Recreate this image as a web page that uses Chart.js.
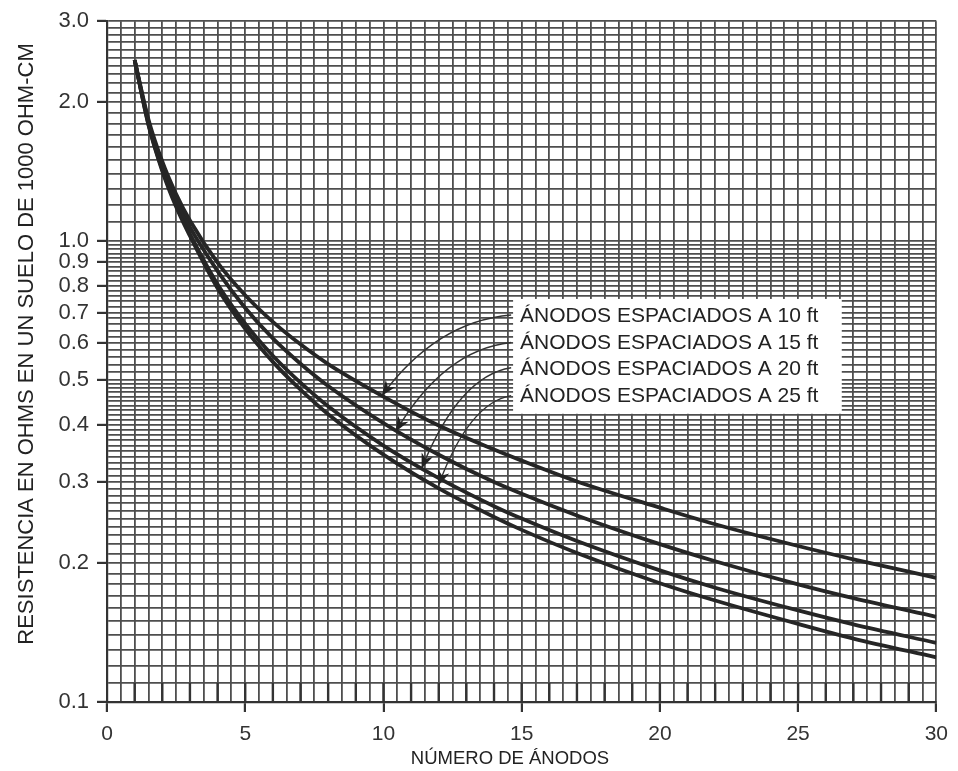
<!DOCTYPE html>
<html>
<head>
<meta charset="utf-8">
<script src="https://cdn.jsdelivr.net/npm/chart.js@4.4.1/dist/chart.umd.min.js"></script>
<style>
  html, body { margin: 0; padding: 0; background: #ffffff; }
  #wrap { width: 958px; height: 771px; position: relative; }
</style>
</head>
<body>
<div id="wrap"><canvas id="c" width="958" height="771"></canvas></div>
<script>
// ---- data ----
const anodeCounts = [1, 1.5, 2, 2.5, 3, 4, 5, 6, 7, 8, 10, 12, 14, 15, 17, 20, 22, 25, 27, 30];
const spacing10ft = [2.47, 1.837, 1.489, 1.265, 1.108, 0.898, 0.763, 0.668, 0.597, 0.541, 0.460, 0.398, 0.353, 0.334, 0.301, 0.264, 0.243, 0.218, 0.204, 0.186];
const spacing15ft = [2.47, 1.815, 1.458, 1.231, 1.072, 0.861, 0.716, 0.615, 0.542, 0.485, 0.403, 0.344, 0.300, 0.283, 0.254, 0.220, 0.202, 0.180, 0.168, 0.153];
const spacing20ft = [2.47, 1.793, 1.429, 1.198, 1.037, 0.806, 0.662, 0.564, 0.493, 0.438, 0.360, 0.306, 0.266, 0.250, 0.2235, 0.193, 0.177, 0.158, 0.1474, 0.1344];
const spacing25ft = [2.47, 1.785, 1.419, 1.187, 1.026, 0.790, 0.645, 0.547, 0.476, 0.421, 0.344, 0.2906, 0.252, 0.2363, 0.2105, 0.181, 0.166, 0.1477, 0.1373, 0.125];
const seriesLabels = ['ÁNODOS ESPACIADOS A 10 ft', 'ÁNODOS ESPACIADOS A 15 ft', 'ÁNODOS ESPACIADOS A 20 ft', 'ÁNODOS ESPACIADOS A 25 ft'];
const xTickLabels = [0, 5, 10, 15, 20, 25, 30];
const yTickLabels = [0.1, 0.2, 0.3, 0.4, 0.5, 0.6, 0.7, 0.8, 0.9, 1.0, 2.0, 3.0];
const xTitle = 'NÚMERO DE ÁNODOS';
const yTitle = 'RESISTENCIA EN OHMS EN UN SUELO DE 1000 OHM-CM';
// annotation arrows in data units: tail at the label, tip on the curve
const arrowTails = [[14.62, 0.6915], [14.62, 0.6025], [14.62, 0.531], [14.62, 0.462]];
const arrowTips = [[9.94, 0.462], [10.44, 0.386], [11.38, 0.321], [11.99, 0.295]];
const labelBox = [14.69, 26.58, 0.749, 0.422]; // xMin, xMax, yMax, yMin
const labelRows = [0.6915, 0.6025, 0.531, 0.462];

// ---- grid (log-paper rulings) ----
const yGrid = [];
for (let k = 10; k <= 50; k++) yGrid.push(k / 100);
for (let k = 52; k <= 100; k += 2) yGrid.push(k / 100);
for (let k = 11; k <= 30; k++) yGrid.push(k / 10);

const isYMajor = v => yTickLabels.some(t => Math.abs(t - v) < 1e-9);
const isXMajor = v => xTickLabels.some(t => Math.abs(t - v) < 1e-9);

const FONT = '"Liberation Sans", Arial, Helvetica, sans-serif';
const INK = '#262626';
const GRID = '#4e4e4e';

const mk = arr => anodeCounts.map((x, i) => ({x: x, y: arr[i]}));
const series = [spacing10ft, spacing15ft, spacing20ft, spacing25ft];

const annotPlugin = {
  id: 'annot',
  beforeDatasetsDraw(chart) {
    const {ctx, scales: {x, y}} = chart;
    ctx.save();
    // strip of heavier rulings at whole numbers, bottom row
    ctx.strokeStyle = '#333';
    ctx.lineWidth = 2.4;
    for (let n = 1; n < 30; n++) {
      const px = x.getPixelForValue(n);
      ctx.beginPath();
      ctx.moveTo(px, y.getPixelForValue(0.1));
      ctx.lineTo(px, y.getPixelForValue(0.11));
      ctx.stroke();
    }
    // white label box
    const bx0 = x.getPixelForValue(labelBox[0]), bx1 = x.getPixelForValue(labelBox[1]);
    const by0 = y.getPixelForValue(labelBox[2]), by1 = y.getPixelForValue(labelBox[3]);
    ctx.fillStyle = '#ffffff';
    ctx.fillRect(bx0, by0, bx1 - bx0, by1 - by0);
    ctx.fillStyle = '#222';
    ctx.font = '21px ' + FONT;
    ctx.textBaseline = 'middle';
    ctx.textAlign = 'left';
    seriesLabels.forEach((t, i) => {
      ctx.fillText(t, bx0 + 7, y.getPixelForValue(labelRows[i]) + 1);
    });
    // arrows
    ctx.strokeStyle = '#333';
    ctx.fillStyle = '#222';
    ctx.lineWidth = 1.4;
    arrowTails.forEach((s, i) => {
      const p0x = x.getPixelForValue(s[0]), p0y = y.getPixelForValue(s[1]);
      const p2x = x.getPixelForValue(arrowTips[i][0]), p2y = y.getPixelForValue(arrowTips[i][1]);
      const cx = p2x + 0.42 * (p0x - p2x), cy = p0y + 0.08 * (p2y - p0y);
      ctx.beginPath();
      ctx.moveTo(p0x, p0y);
      ctx.quadraticCurveTo(cx, cy, p2x, p2y);
      ctx.stroke();
      const ang = Math.atan2(p2y - cy, p2x - cx);
      const L = 15, W = 6;
      ctx.beginPath();
      ctx.moveTo(p2x, p2y);
      ctx.lineTo(p2x - L * Math.cos(ang) + W * Math.sin(ang), p2y - L * Math.sin(ang) - W * Math.cos(ang));
      ctx.lineTo(p2x - 0.7 * L * Math.cos(ang), p2y - 0.7 * L * Math.sin(ang));
      ctx.lineTo(p2x - L * Math.cos(ang) - W * Math.sin(ang), p2y - L * Math.sin(ang) + W * Math.cos(ang));
      ctx.closePath();
      ctx.fill();
    });
    ctx.restore();
  },
  afterDraw(chart) {
    const {ctx} = chart;
    ctx.save();
    ctx.fillStyle = '#222';
    ctx.textAlign = 'center';
    ctx.textBaseline = 'middle';
    ctx.font = '18.5px ' + FONT;
    ctx.fillText(xTitle, 510, 759);
    ctx.translate(26, 344);
    ctx.rotate(-Math.PI / 2);
    ctx.font = '22px ' + FONT;
    ctx.fillText(yTitle, 0, 1);
    ctx.restore();
  }
};

new Chart(document.getElementById('c'), {
  type: 'scatter',
  data: {
    datasets: series.map((arr, i) => ({
      label: seriesLabels[i],
      data: mk(arr),
      showLine: true,
      borderColor: INK,
      borderWidth: 3.8,
      pointRadius: 0,
      cubicInterpolationMode: 'monotone',
      fill: false
    }))
  },
  options: {
    responsive: false,
    animation: false,
    devicePixelRatio: 1,
    layout: { padding: { left: 0, right: 18, top: 20, bottom: 0 } },
    plugins: { legend: { display: false }, tooltip: { enabled: false } },
    scales: {
      x: {
        type: 'linear',
        min: 0, max: 30,
        afterBuildTicks: s => { const t = []; for (let k = 0; k <= 60; k++) t.push({value: k / 2}); s.ticks = t; },
        afterFit: s => { s.height = 69; },
        ticks: {
          autoSkip: false, maxRotation: 0, padding: 10,
          color: '#333', font: { size: 21, family: FONT },
          callback: v => isXMajor(v) ? String(v) : ''
        },
        grid: {
          color: GRID, lineWidth: 1.8, tickLength: 10,
          tickColor: c => (c.tick && isXMajor(c.tick.value)) ? '#333' : 'rgba(0,0,0,0)',
          tickWidth: 2.2
        },
        border: { display: true, color: '#333', width: 2.2 },
        title: { display: false }
      },
      y: {
        type: 'logarithmic',
        min: 0.1, max: 3.0,
        afterBuildTicks: s => { s.ticks = yGrid.map(v => ({value: v})); },
        afterFit: s => { s.width = 107; },
        ticks: {
          autoSkip: false, padding: 8,
          color: '#333', font: { size: 22, family: FONT },
          callback: v => isYMajor(v) ? Number(v).toFixed(1) : ''
        },
        grid: {
          color: GRID, lineWidth: 1.8, tickLength: 10,
          tickColor: c => (c.tick && isYMajor(c.tick.value)) ? '#333' : 'rgba(0,0,0,0)',
          tickWidth: 2.2
        },
        border: { display: true, color: '#333', width: 2.2 },
        title: { display: false }
      }
    }
  },
  plugins: [annotPlugin]
});
</script>
</body>
</html>
